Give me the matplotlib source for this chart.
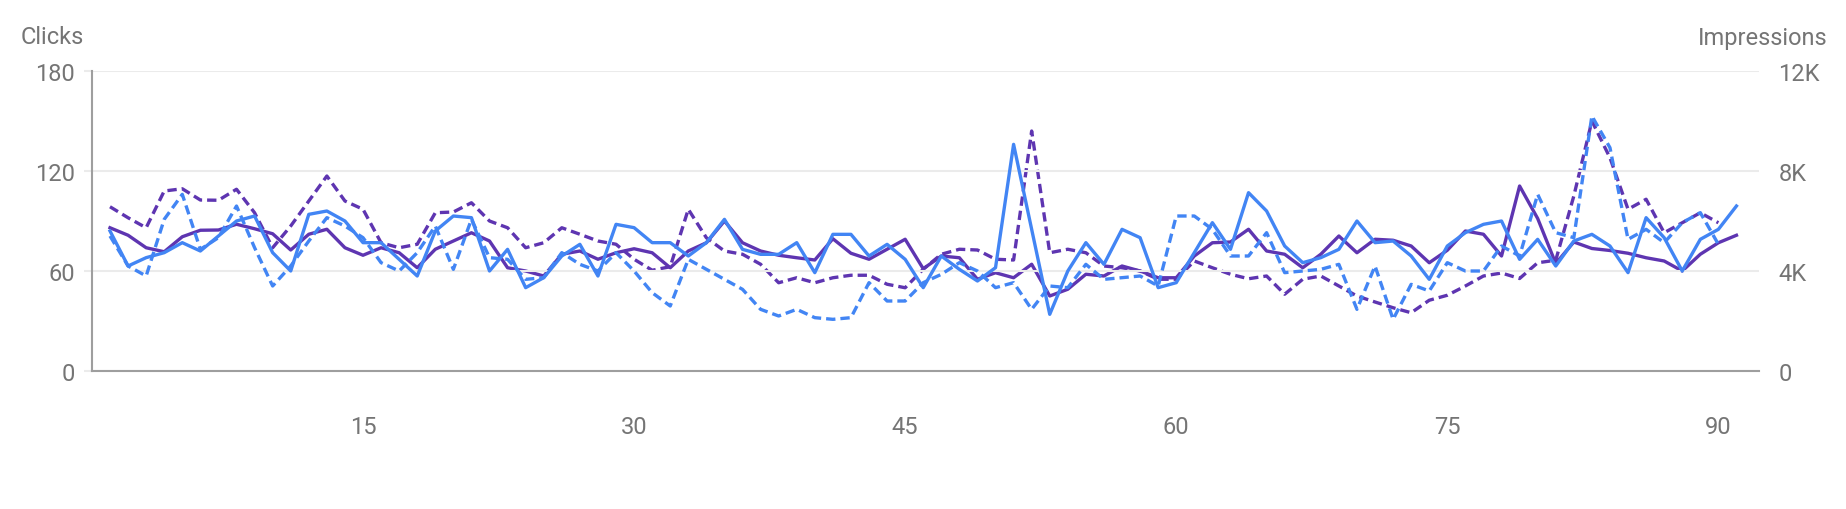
import matplotlib
matplotlib.use('Agg')
import matplotlib.pyplot as plt
from matplotlib.ticker import FuncFormatter

plt.rcParams['font.family'] = ['Roboto', 'DejaVu Sans']

# Data (days 1..91, previous period has 90 days)
days = list(range(1, 92))
days_prev = list(range(1, 91))

clicks = [84, 63, 68, 71, 77, 72, 81, 90, 93, 71,
          60, 94, 96, 90, 77, 77, 67, 57, 84, 93,
          92, 60, 73, 50, 56, 69, 76, 57, 88, 86,
          77, 77, 69, 77, 91, 73, 70, 70, 77, 59,
          82, 82, 69, 76, 67, 50, 69, 61, 54, 62,
          136, 85, 34, 60, 77, 64, 85, 80, 50, 53,
          71, 89, 73, 107, 96, 75, 65, 68, 73, 90,
          77, 78, 69, 55, 75, 83, 88, 90, 67, 79,
          63, 78, 82, 75, 59, 92, 80, 60, 79, 85,
          99]

clicks_prev = [81, 63, 57, 91, 106, 73, 80, 99, 74, 51,
               63, 78, 92, 87, 80, 65, 60, 71, 87, 61,
               91, 68, 67, 55, 56, 71, 64, 60, 71, 60,
               47, 39, 67, 61, 55, 49, 37, 33, 37, 32,
               31, 32, 53, 42, 42, 53, 58, 65, 60, 50,
               53, 37, 51, 50, 64, 55, 56, 57, 51, 93,
               93, 85, 69, 69, 83, 59, 60, 61, 64, 37,
               63, 31, 52, 48, 65, 60, 60, 75, 69, 106,
               83, 80, 153, 134, 79, 85, 77, 89, 95, 76]

impressions = [5730, 5430, 4930, 4770, 5370, 5630, 5640, 5870, 5690, 5490,
               4840, 5470, 5670, 4930, 4630, 4930, 4730, 4130, 4870, 5200,
               5530, 5200, 4130, 4000, 3800, 4670, 4800, 4470, 4730, 4890,
               4730, 4130, 4800, 5130, 6000, 5130, 4800, 4630, 4530, 4440,
               5290, 4710, 4470, 4870, 5270, 4090, 4600, 4530, 3670, 3930,
               3730, 4270, 3000, 3270, 3870, 3800, 4200, 4000, 3730, 3730,
               4600, 5130, 5160, 5670, 4800, 4670, 4130, 4670, 5400, 4730,
               5270, 5230, 5000, 4330, 4830, 5600, 5470, 4600, 7400, 6100,
               4300, 5160, 4900, 4820, 4710, 4530, 4400, 4000, 4670, 5130,
               5430]

impressions_prev = [6570, 6130, 5730, 7200, 7290, 6840, 6830, 7270, 6330, 4930,
                    5800, 6800, 7800, 6800, 6470, 5130, 4930, 5070, 6330, 6360,
                    6730, 6000, 5730, 4930, 5130, 5730, 5470, 5200, 5070, 4470,
                    4030, 4170, 6470, 5330, 4800, 4670, 4270, 3530, 3730, 3530,
                    3730, 3830, 3830, 3470, 3330, 4070, 4670, 4870, 4840, 4470,
                    4440, 9600, 4730, 4870, 4730, 4200, 4130, 4000, 3670, 3670,
                    4400, 4130, 3870, 3690, 3800, 3070, 3670, 3800, 3400, 3000,
                    2760, 2530, 2330, 2830, 3030, 3400, 3800, 3920, 3700, 4330,
                    4430, 7000, 10000, 8530, 6470, 6870, 5530, 5930, 6330, 5930]

x_ticks = [15, 30, 45, 60, 75, 90]
clicks_ticks = [0, 60, 120, 180]
impr_ticks = [0, 4000, 8000, 12000]

BLUE = '#4285f4'
PURPLE = '#5e35b1'
TEXT = '#757575'
GRID = '#ebebeb'
AXIS = '#9e9e9e'

fig = plt.figure(figsize=(18.46, 5.10), dpi=100)
ax = fig.add_axes([0.0498, 0.2706, 0.9031, 0.5882])
ax2 = ax.twinx()

lw = 2.4
ax.plot(days, clicks, color=BLUE, lw=lw, zorder=3)
ax.plot(days_prev, clicks_prev, color=BLUE, lw=lw, dashes=(2.8, 1.5), zorder=3)
ax2.plot(days, impressions, color=PURPLE, lw=lw, zorder=2)
ax2.plot(days_prev, impressions_prev, color=PURPLE, lw=lw, dashes=(2.8, 1.5), zorder=2)

# clicks lines on top of impressions
ax.set_zorder(ax2.get_zorder() + 1)
ax.patch.set_visible(False)

ax.set_xlim(0, 92.25)
ax.set_ylim(0, 180)
ax2.set_ylim(0, 12000)
ax.set_xticks(x_ticks)
ax.set_yticks(clicks_ticks)
ax2.set_yticks(impr_ticks)
ax2.yaxis.set_major_formatter(FuncFormatter(lambda v, p: '0' if v == 0 else f'{int(v / 1000)}K'))

ax.grid(axis='y', color=GRID, lw=1.5, zorder=0)
ax.set_axisbelow(True)

for a in (ax, ax2):
    for s in ('top', 'right'):
        a.spines[s].set_visible(False)
ax2.spines['left'].set_visible(False)
ax2.spines['bottom'].set_visible(False)
ax.spines['left'].set_color(AXIS)
ax.spines['bottom'].set_color(AXIS)
ax.spines['left'].set_linewidth(1.5)
ax.spines['bottom'].set_linewidth(1.5)

ax.tick_params(axis='y', length=6, width=1.5, color=GRID, labelsize=17, labelcolor=TEXT, pad=6)
ax.tick_params(axis='x', length=0, labelsize=17, labelcolor=TEXT, pad=32)
ax2.tick_params(axis='y', length=0, labelsize=17, labelcolor=TEXT, pad=14)

fig.text(21 / 1846, 1 - 38 / 510, 'Clicks', ha='left', va='center', fontsize=17, color=TEXT)
fig.text(1827 / 1846, 1 - 38 / 510, 'Impressions', ha='right', va='center', fontsize=17, color=TEXT)

plt.savefig('out.png', dpi=100)
plt.close()
